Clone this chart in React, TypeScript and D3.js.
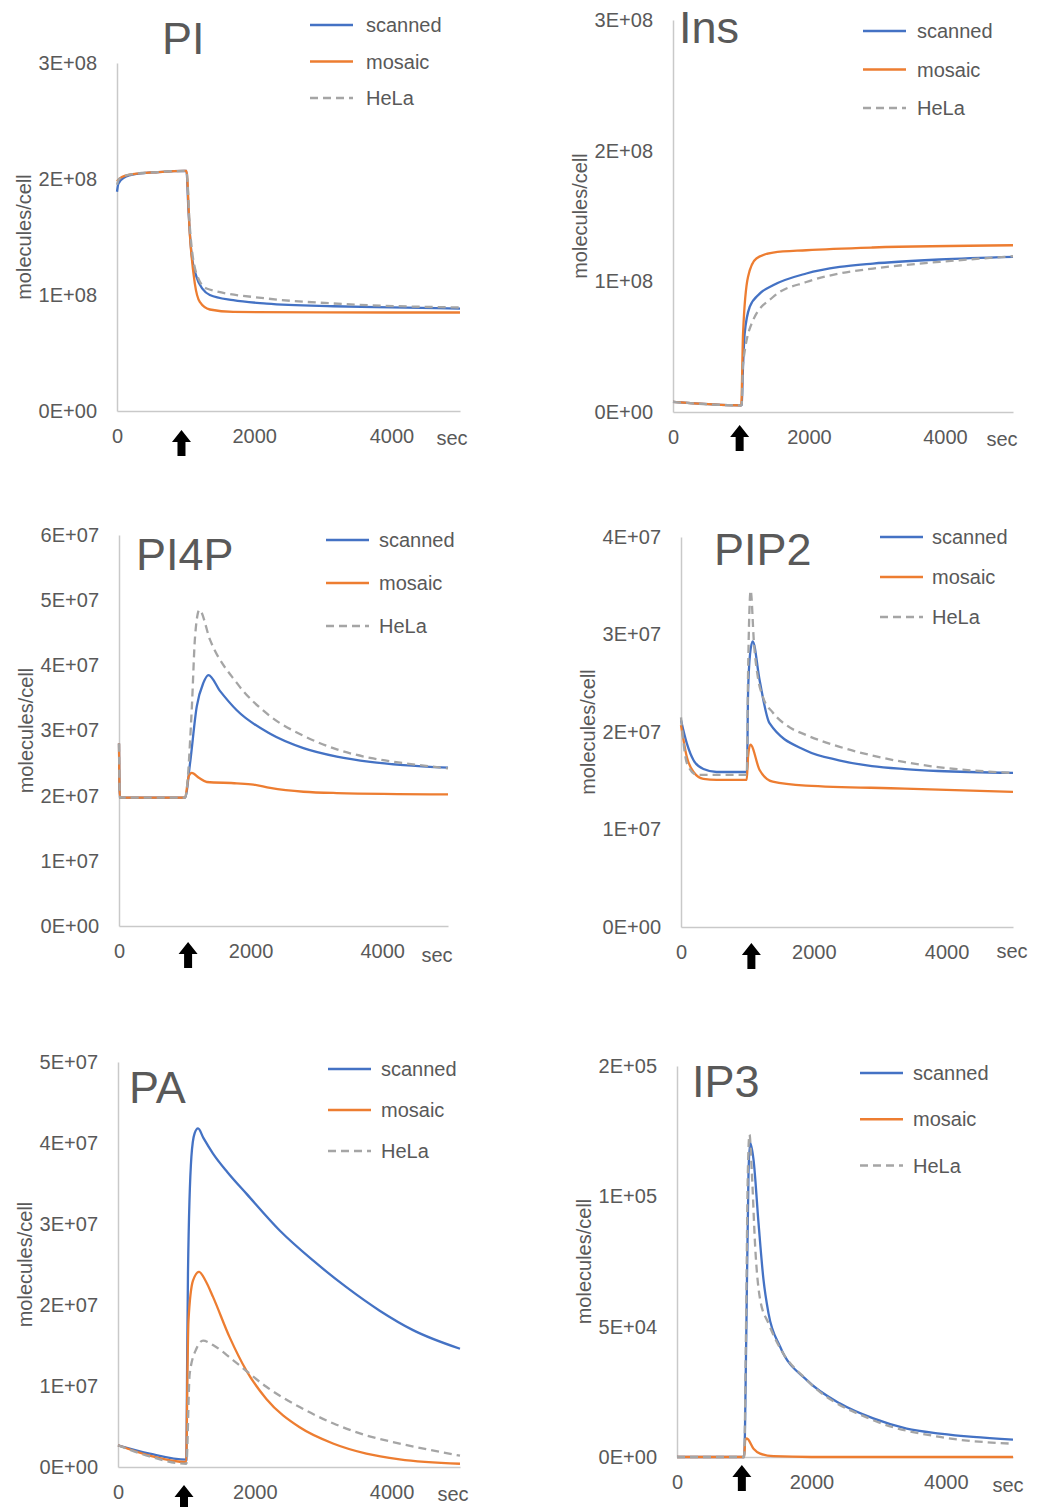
import { useEffect, useRef } from "react";
import * as d3 from "d3";

type Pt = [number, number];

// series: [time (sec), molecules/cell]
const seriesNames = ["scanned", "mosaic", "HeLa"];
const seriesColors = ["#4472C4", "#ED7D31", "#A5A5A5"];
const xTicks = [0, 2000, 4000];
const xMax = 5000;

const piScanned: Pt[] = [[0, 1.89e8], [20, 1.96e8], [100, 2.01e8], [300, 2.045e8], [600, 2.06e8], [1000, 2.07e8], [1013, 2.07e8], [1040, 1.75e8], [1086, 1.36e8], [1159, 1.156e8], [1250, 1.05e8], [1353, 1.0e8], [1694, 0.955e8], [2181, 0.926e8], [3153, 0.903e8], [4000, 0.893e8], [5000, 0.883e8]];
const piMosaic: Pt[] = [[0, 1.98e8], [50, 2.01e8], [200, 2.04e8], [600, 2.06e8], [1000, 2.07e8], [1013, 2.07e8], [1061, 1.53e8], [1134, 1.1e8], [1207, 0.94e8], [1353, 0.875e8], [1694, 0.854e8], [3000, 0.85e8], [5000, 0.849e8]];
const piHela: Pt[] = [[0, 1.95e8], [30, 2.0e8], [200, 2.04e8], [600, 2.06e8], [1013, 2.07e8], [1060, 1.6e8], [1150, 1.2e8], [1305, 1.056e8], [2181, 0.97e8], [3153, 0.927e8], [5000, 0.892e8]];

const insScanned: Pt[] = [[0, 7.7e6], [1000, 5.1e6], [1010, 5.5e6], [1030, 3.5e7], [1054, 6.0e7], [1128, 8.04e7], [1275, 9.06e7], [1471, 9.7e7], [1961, 1.06e8], [2451, 1.11e8], [2941, 1.136e8], [3922, 1.167e8], [5000, 1.187e8]];
const insMosaic: Pt[] = [[0, 7.7e6], [1000, 5.1e6], [1005, 6e6], [1030, 6.0e7], [1103, 1.034e8], [1226, 1.175e8], [1471, 1.22e8], [1961, 1.238e8], [2941, 1.259e8], [5000, 1.276e8]];
const insHela: Pt[] = [[0, 7.7e6], [1000, 5.1e6], [1010, 5.5e6], [1030, 3.7e7], [1176, 7.0e7], [1471, 8.8e7], [1961, 9.95e7], [2451, 1.06e8], [2941, 1.098e8], [3922, 1.149e8], [5000, 1.192e8]];

const pi4pScanned: Pt[] = [[0, 2.8e7], [12, 1.97e7], [1004, 1.97e7], [1080, 2.5e7], [1182, 3.37e7], [1282, 3.73e7], [1358, 3.85e7], [1540, 3.6e7], [1790, 3.31e7], [2297, 2.95e7], [2803, 2.73e7], [3311, 2.6e7], [3817, 2.52e7], [4324, 2.47e7], [5000, 2.43e7]];
const pi4pMosaic: Pt[] = [[0, 2.8e7], [12, 1.97e7], [1004, 1.97e7], [1060, 2.3e7], [1105, 2.35e7], [1220, 2.27e7], [1334, 2.21e7], [1790, 2.19e7], [2043, 2.17e7], [2297, 2.12e7], [2803, 2.06e7], [3311, 2.04e7], [5000, 2.02e7]];
const pi4pHela: Pt[] = [[0, 2.8e7], [12, 1.97e7], [1004, 1.97e7], [1105, 3.31e7], [1156, 4.44e7], [1221, 4.85e7], [1384, 4.39e7], [1790, 3.73e7], [2297, 3.22e7], [2803, 2.92e7], [3311, 2.71e7], [3817, 2.58e7], [4324, 2.5e7], [5000, 2.42e7]];

const pip2Scanned: Pt[] = [[0, 2.12e7], [89, 1.88e7], [189, 1.71e7], [338, 1.62e7], [537, 1.59e7], [994, 1.59e7], [1010, 2.4e7], [1040, 2.8e7], [1080, 2.93e7], [1184, 2.53e7], [1333, 2.09e7], [1881, 1.81e7], [2378, 1.71e7], [2875, 1.65e7], [3373, 1.62e7], [3870, 1.6e7], [5000, 1.58e7]];
const pip2Mosaic: Pt[] = [[0, 2.07e7], [89, 1.74e7], [189, 1.59e7], [338, 1.52e7], [537, 1.51e7], [990, 1.51e7], [1010, 1.75e7], [1045, 1.87e7], [1184, 1.61e7], [1382, 1.49e7], [1881, 1.45e7], [3373, 1.42e7], [5000, 1.385e7]];
const pip2Hela: Pt[] = [[0, 2.15e7], [89, 1.68e7], [239, 1.56e7], [990, 1.56e7], [1010, 2.6e7], [1049, 3.45e7], [1100, 2.9e7], [1160, 2.55e7], [1233, 2.36e7], [1382, 2.2e7], [1631, 2.05e7], [1881, 1.97e7], [2378, 1.85e7], [2875, 1.76e7], [3373, 1.69e7], [3870, 1.64e7], [5000, 1.58e7]];

const paScanned: Pt[] = [[0, 2.68e6], [463, 1.65e6], [1000, 0.9e6], [1010, 1.2e7], [1023, 2.39e7], [1073, 3.83e7], [1120, 4.12e7], [1170, 4.18e7], [1250, 4.06e7], [1389, 3.87e7], [1600, 3.64e7], [1877, 3.375e7], [2364, 2.92e7], [2851, 2.55e7], [3339, 2.22e7], [3826, 1.93e7], [4313, 1.69e7], [5000, 1.46e7]];
const paMosaic: Pt[] = [[0, 2.68e6], [463, 1.4e6], [1000, 0.6e6], [1010, 0.8e7], [1030, 1.8e7], [1096, 2.3e7], [1184, 2.41e7], [1280, 2.3e7], [1389, 2.1e7], [1633, 1.6e7], [1877, 1.19e7], [2169, 0.84e7], [2656, 0.49e7], [3143, 0.29e7], [3631, 0.165e7], [4118, 0.095e7], [5000, 0.04e7]];
const paHela: Pt[] = [[0, 2.68e6], [463, 1.3e6], [1000, 0.4e6], [1048, 1.15e7], [1146, 1.46e7], [1243, 1.56e7], [1400, 1.5e7], [1681, 1.32e7], [2169, 0.99e7], [2656, 0.74e7], [3143, 0.54e7], [3631, 0.39e7], [4118, 0.29e7], [5000, 0.14e7]];

const ip3Scanned: Pt[] = [[0, 0], [1000, 0], [1030, 4.49e4], [1064, 1.09e5], [1089, 1.205e5], [1139, 1.14e5], [1213, 8.98e4], [1287, 6.8e4], [1361, 5.52e4], [1535, 4.23e4], [1932, 2.95e4], [2427, 2.05e4], [2921, 1.48e4], [3418, 1.09e4], [3912, 9.0e3], [4407, 7.7e3], [5000, 6.7e3]];
const ip3Mosaic: Pt[] = [[0, 0], [1000, 0], [1015, 6.4e3], [1040, 7.1e3], [1139, 3.2e3], [1238, 1.3e3], [1436, 3e2], [2000, 0], [5000, 0]];
const ip3Hela: Pt[] = [[0, 0], [1000, 0], [1025, 4.49e4], [1054, 1.09e5], [1079, 1.237e5], [1114, 1.09e5], [1163, 8.08e4], [1238, 6.03e4], [1361, 5.13e4], [1535, 4.17e4], [1932, 2.95e4], [2921, 1.41e4], [3912, 7.7e3], [5000, 5.1e3]];

const panelNames = ["PI", "Ins", "PI4P", "PIP2", "PA", "IP3"];
const panelSeries = [
  [piScanned, piMosaic, piHela],
  [insScanned, insMosaic, insHela],
  [pi4pScanned, pi4pMosaic, pi4pHela],
  [pip2Scanned, pip2Mosaic, pip2Hela],
  [paScanned, paMosaic, paHela],
  [ip3Scanned, ip3Mosaic, ip3Hela],
];
const panelYTicks = [
  [0, 1e8, 2e8, 3e8],
  [0, 1e8, 2e8, 3e8],
  [0, 1e7, 2e7, 3e7, 4e7, 5e7, 6e7],
  [0, 1e7, 2e7, 3e7, 4e7],
  [0, 1e7, 2e7, 3e7, 4e7, 5e7],
  [0, 5e4, 1e5, 1.5e5],
];
// time (sec) under which the stimulus arrow sits
const stimArrowAt = [940, 980, 1050, 1060, 965, 965];

// panel placement on the page
const layouts = [
  { left: 117, top: 63, right: 460, bottom: 411, titleX: 162, titleY: 54, legX: 310, legY: 25, legGap: 36.5, legTextX: 366, arrowDy: 19, secDx: -8, secDy: 27 },
  { left: 673, top: 20, right: 1013, bottom: 412, titleX: 679, titleY: 43, legX: 863, legY: 31, legGap: 38.5, legTextX: 917, arrowDy: 13, secDx: -11, secDy: 27 },
  { left: 119, top: 535, right: 448, bottom: 926, titleX: 136, titleY: 570, legX: 326, legY: 540, legGap: 43, legTextX: 379, arrowDy: 16, secDx: -11, secDy: 29 },
  { left: 681, top: 537, right: 1013, bottom: 927, titleX: 714, titleY: 565, legX: 880, legY: 537, legGap: 40, legTextX: 932, arrowDy: 16, secDx: -1, secDy: 24 },
  { left: 118, top: 1062, right: 460, bottom: 1467, titleX: 129, titleY: 1103, legX: 328, legY: 1069, legGap: 41, legTextX: 381, arrowDy: 18, secDx: -7, secDy: 27 },
  { left: 677, top: 1066, right: 1013, bottom: 1457, titleX: 692, titleY: 1097, legX: 860, legY: 1073, legGap: 46.3, legTextX: 913, arrowDy: 8, secDx: -5, secDy: 28 },
];

const FONT = "'Liberation Sans', Arial, sans-serif";
const TEXT = "#595959";
const AXIS = "#C9C9C9";

// Excel "0E+00" number format
const fmtE = (v: number) => {
  if (v === 0) return "0E+00";
  const e = Math.floor(Math.log10(v));
  const m = Math.round(v / Math.pow(10, e));
  return `${m}E+${String(e).padStart(2, "0")}`;
};

const App = () => {
  const svgRef = useRef<SVGSVGElement>(null);

  useEffect(() => {
    const svg = d3.select(svgRef.current);
    svg.selectAll("*").remove();

    panelNames.forEach((name, i) => {
      const L = layouts[i];
      const ticks = panelYTicks[i];
      const x = d3.scaleLinear().domain([0, xMax]).range([L.left, L.right]);
      const y = d3
        .scaleLinear()
        .domain([0, d3.max(ticks) as number])
        .range([L.bottom, L.top]);
      const g = svg.append("g");

      // y axis
      const ya = g
        .append("g")
        .attr("transform", `translate(${L.left},0)`)
        .call(
          d3.axisLeft(y).tickValues(ticks).tickSize(0).tickPadding(20).tickFormat((d) => fmtE(+d))
        );
      // x axis
      const xa = g
        .append("g")
        .attr("transform", `translate(0,${L.bottom})`)
        .call(d3.axisBottom(x).tickValues(xTicks).tickSize(0).tickPadding(18).tickFormat(d3.format("d")));
      [ya, xa].forEach((a) => {
        a.select(".domain").attr("stroke", AXIS).attr("stroke-width", 1.5);
        a.selectAll("text")
          .attr("fill", TEXT)
          .attr("font-family", FONT)
          .attr("font-size", 20);
      });

      g.append("text")
        .attr("x", L.right + L.secDx)
        .attr("y", L.bottom + L.secDy)
        .attr("text-anchor", "middle")
        .attr("dominant-baseline", "central")
        .attr("fill", TEXT)
        .attr("font-family", FONT)
        .attr("font-size", 20)
        .text("sec");

      // y axis title
      g.append("text")
        .attr("transform", `translate(${L.left - 93},${(L.top + L.bottom) / 2}) rotate(-90)`)
        .attr("text-anchor", "middle")
        .attr("dominant-baseline", "central")
        .attr("fill", TEXT)
        .attr("font-family", FONT)
        .attr("font-size", 20)
        .text("molecules/cell");

      // series
      const line = d3
        .line<Pt>()
        .x((d) => x(d[0]))
        .y((d) => y(d[1]))
        .curve(d3.curveMonotoneX);
      panelSeries[i].forEach((s, k) => {
        g.append("path")
          .datum(s)
          .attr("fill", "none")
          .attr("stroke", seriesColors[k])
          .attr("stroke-width", 2.3)
          .attr("stroke-dasharray", k === 2 ? "8,5" : null)
          .attr("d", line);
      });

      // panel title
      g.append("text")
        .attr("x", L.titleX)
        .attr("y", L.titleY)
        .attr("fill", TEXT)
        .attr("font-family", FONT)
        .attr("font-size", 45)
        .text(name);

      // legend
      seriesNames.forEach((s, k) => {
        const ly = L.legY + k * L.legGap;
        g.append("line")
          .attr("x1", L.legX)
          .attr("x2", L.legX + 43)
          .attr("y1", ly)
          .attr("y2", ly)
          .attr("stroke", seriesColors[k])
          .attr("stroke-width", 2.5)
          .attr("stroke-dasharray", k === 2 ? "8,5" : null);
        g.append("text")
          .attr("x", L.legTextX)
          .attr("y", ly)
          .attr("dominant-baseline", "central")
          .attr("fill", TEXT)
          .attr("font-family", FONT)
          .attr("font-size", 20)
          .text(s);
      });

      // stimulus arrow
      const cx = x(stimArrowAt[i]);
      const ty = L.bottom + L.arrowDy;
      g.append("path")
        .attr(
          "d",
          `M${cx},${ty} L${cx + 9.5},${ty + 12} L${cx + 4},${ty + 12} L${cx + 4},${ty + 26} L${cx - 4},${ty + 26} L${cx - 4},${ty + 12} L${cx - 9.5},${ty + 12} Z`
        )
        .attr("fill", "#000");
    });
  }, []);

  return (
    <div style={{ position: "absolute", left: 0, top: 0, background: "#fff" }}>
      <svg ref={svgRef} width={1040} height={1507} style={{ display: "block" }}></svg>
    </div>
  );
};

export default App;
